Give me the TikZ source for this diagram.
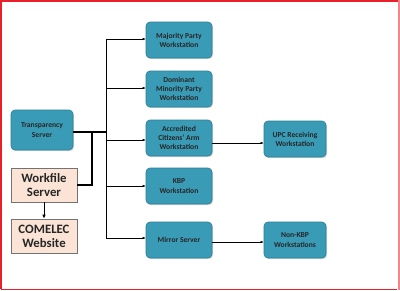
\documentclass[tikz,border=0pt]{standalone}
\usepackage{fontspec}
\setmainfont{Carlito}
\usetikzlibrary{arrows.meta,shadows}
\definecolor{teal1}{HTML}{3A9BB6}
\definecolor{teal2}{HTML}{2C7D93}
\definecolor{peach}{HTML}{FBE4D5}
\definecolor{frame}{HTML}{E8202A}
\begin{document}
\begin{tikzpicture}[x=1pt,y=-1pt,
  tbox/.style={draw=teal2,line width=0.6pt,fill=teal1,rounded corners=4pt,
    minimum width=66pt,minimum height=36pt,align=center,inner sep=1pt,
    font=\bfseries\fontsize{7.6}{9.2}\selectfont,text=black!85,
    drop shadow={shadow xshift=1pt,shadow yshift=-1.2pt,fill=black!25,opacity=0.6}},
  pbox/.style={draw=black!55,line width=0.6pt,fill=peach,
    minimum width=66pt,minimum height=34pt,align=center,inner sep=1pt,
    font=\bfseries\fontsize{12.8}{14}\selectfont,text=black!85},
  thk/.style={line width=1.2pt,black},
  arr/.style={line width=0.5pt,black,-{Latex[length=3pt,width=2.5pt]}},
  arrk/.style={line width=0.9pt,black,-{Latex[length=4pt,width=3.5pt]}}]
\useasboundingbox (0,0) rectangle (400,290);
\fill[white] (0,0) rectangle (400,290);
\draw[frame,line width=1.5pt] (0.75,289.25) -- (0.75,0.75) -- (399.25,0.75);
\draw[frame,line width=1.5pt] (0.75,289.25) -- (397,289.25);
\draw[frame!55,line width=2pt] (398.5,0) -- (398.5,290);

\node[tbox,minimum width=62pt,minimum height=40pt] (ts) at (42,130) {Transparency\\Server};
\node[pbox] (wf) at (44,185) {Workfile\\Server};
\node[pbox] (cw) at (44,236) {COMELEC\\Website};

\node[tbox] (mp) at (179,40) {Majority Party\\Workstation};
\node[tbox] (dm) at (179,89) {Dominant\\Minority Party\\Workstation};
\node[tbox] (ac) at (179,138) {Accredited\\Citizens' Arm\\Workstation};
\node[tbox] (kb) at (179,186) {KBP\\Workstation};
\node[tbox] (ms) at (179,240) {Mirror Server};
\node[tbox,minimum width=62pt] (upc) at (295,139) {UPC Receiving\\Workstation};
\node[tbox,minimum width=62pt] (nk) at (295,240) {Non-KBP\\Workstations};

\coordinate (bj) at (92,132);
\coordinate (bt) at (106,39);
\coordinate (bb) at (106,238);
\draw[thk] (ts.east |- bj) -- (106,132);
\draw[thk] (wf.east) -- (wf.east -| bj) -- (bj);
\draw[line width=0.6pt] (bt) -- (bb);
\draw[arr] (bt) -- (mp.west |- bt);
\draw[arr] (106,88) -- (dm.west |- 0,88);
\draw[arr] (106,140) -- (ac.west |- 0,140);
\draw[arr] (106,186) -- (kb.west |- 0,186);
\draw[arr] (bb) -- (ms.west |- bb);
\draw[arr] (ac.east |- 0,143) -- (upc.west |- 0,143);
\draw[arr] (ms.east |- 0,242) -- (nk.west |- 0,242);
\draw[arrk] (wf.south) -- (cw.north);
\end{tikzpicture}
\end{document}
